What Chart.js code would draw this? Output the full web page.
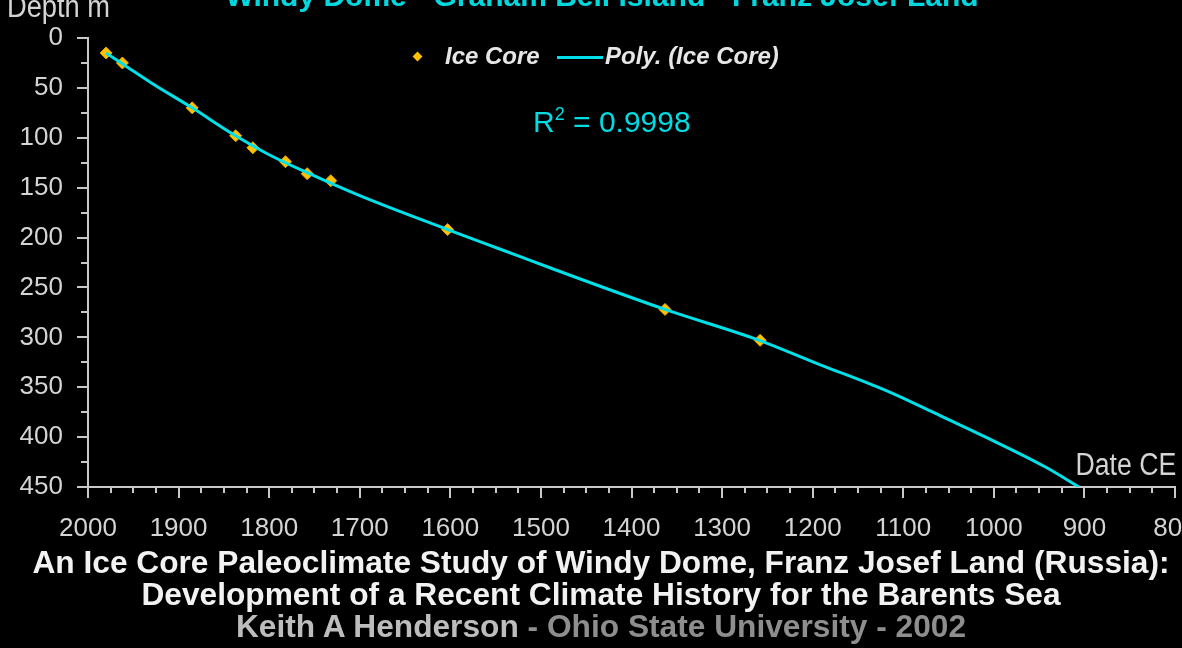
<!DOCTYPE html>
<html>
<head>
<meta charset="utf-8">
<script src="https://cdn.jsdelivr.net/npm/chart.js@4.4.1/dist/chart.umd.min.js"></script>
<style>
    html, body { margin: 0; padding: 0; background: #000; width: 1182px; height: 648px; overflow: hidden; }
    #wrap { position: absolute; left: 0; top: 0; width: 1240px; height: 648px; }
    .t { position: absolute; line-height: 1; white-space: nowrap; font-family: "Liberation Sans", Arial, sans-serif; }
    .axis { color: #d4d4d4; font-size: 31px; }
    .bold { font-weight: bold; }
</style>
</head>
<body>
<div id="wrap"><canvas id="iceChart" width="1240" height="648"></canvas></div>

<div class="t bold" style="left:0; width:1204px; text-align:center; top:-19px; font-size:30px; color:#00d8e0;">Windy Dome - Graham Bell Island - Franz Josef Land</div>
<div class="t axis" style="left:7px; top:-9px; transform:scaleX(0.88); transform-origin:left top;">Depth m</div>
<div class="t axis" style="right:6px; top:449px; transform:scaleX(0.86); transform-origin:right top;">Date CE</div>

<!-- Legende -->
<div style="position:absolute; left:414px; top:53px; width:7px; height:7px; background:#ffc000; transform:rotate(45deg);"></div>
<div class="t bold" style="left:445px; top:44px; font-size:24px; font-style:italic; color:#e6e6e6;">Ice Core</div>
<div style="position:absolute; left:557px; top:56px; width:46px; height:3px; background:#00e0e8;"></div>
<div class="t bold" style="left:605px; top:44px; font-size:24px; font-style:italic; color:#e6e6e6;">Poly. (Ice Core)</div>
<div class="t" style="left:533px; top:105px; font-size:30px; color:#00dce4;">R<sup style="font-size:18px; vertical-align:12px;">2</sup> = 0.9998</div>

<!-- Unterschrift -->
<div class="t bold" style="left:0; width:1202px; text-align:center; top:547px; font-size:31.7px; color:#f2f2f2;">An Ice Core Paleoclimate Study of Windy Dome, Franz Josef Land (Russia):</div>
<div class="t bold" style="left:0; width:1202px; text-align:center; top:579px; font-size:31.7px; color:#f2f2f2;">Development of a Recent Climate History for the Barents Sea</div>
<div class="t bold" style="left:0; width:1202px; text-align:center; top:611px; font-size:31.7px; color:#8e8e8e;"><span style="color:#bdbdbd;">Keith A Henderson</span> - Ohio State University - 2002</div>

<script>
// ---- Daten ----
const coreYears = [1980, 1962, 1885, 1837, 1818, 1782, 1758, 1732, 1603, 1363, 1258];
const coreDepths = [15, 25, 70, 98, 110, 124, 136, 143, 192, 272, 303];

const fitYears = [1980, 1960, 1930, 1885, 1837, 1800, 1758, 1700, 1603, 1544, 1485, 1363, 1259, 1193, 1120, 1065, 1009, 943, 906];
const fitDepths = [15, 27, 45, 70, 98, 117, 135, 158, 192, 212, 232, 272, 303, 327, 353, 376, 400, 430, 450];

const xMin = 800, xMax = 2000, xStep = 25, xLabelEvery = 100;
const yMin = 0, yMax = 450, yStep = 25, yLabelEvery = 50;

// ---- Ticks selbst zeichnen (lang/kurz) ----
const tickMarks = {
    id: 'tickMarks',
    afterDraw(chart) {
        const ctx = chart.ctx;
        const xs = chart.scales.x, ys = chart.scales.y;
        ctx.save();
        ctx.strokeStyle = '#c8c8c8';
        ctx.lineWidth = 2;
        ctx.beginPath();
        xs.ticks.forEach(t => {
            const px = Math.round(xs.getPixelForValue(t.value));
            const len = t.value % xLabelEvery === 0 ? 11 : 6;
            ctx.moveTo(px, xs.top);
            ctx.lineTo(px, xs.top + len);
        });
        ys.ticks.forEach(t => {
            const py = Math.round(ys.getPixelForValue(t.value));
            const len = t.value % yLabelEvery === 0 ? 11 : 7;
            ctx.moveTo(ys.right, py);
            ctx.lineTo(ys.right - len, py);
        });
        ctx.stroke();
        ctx.restore();
    }
};

const tickFont = { family: '"Liberation Sans", Arial, sans-serif', size: 26 };

const ctx = document.getElementById('iceChart').getContext('2d');
new Chart(ctx, {
    type: 'scatter',
    data: {
        datasets: [
            {
                label: 'Poly. (Ice Core)',
                data: fitYears.map((y, i) => ({ x: y, y: fitDepths[i] })),
                showLine: true,
                borderColor: '#00e0e8',
                borderWidth: 3,
                pointRadius: 0,
                cubicInterpolationMode: 'monotone',
                order: 0
            },
            {
                label: 'Ice Core',
                data: coreYears.map((y, i) => ({ x: y, y: coreDepths[i] })),
                pointStyle: 'rectRot',
                pointRadius: 6,
                backgroundColor: '#ffc000',
                borderColor: '#e8a800',
                borderWidth: 1,
                order: 1
            }
        ]
    },
    options: {
        responsive: false,
        animation: false,
        devicePixelRatio: 1,
        layout: { padding: { top: 38, right: 65, left: 0, bottom: 0 } },
        plugins: { legend: { display: false }, tooltip: { enabled: false } },
        scales: {
            x: {
                type: 'linear',
                reverse: true,
                min: xMin,
                max: xMax,
                afterFit: s => { s.height = 161; },
                border: { display: true, color: '#c8c8c8', width: 2 },
                grid: { drawOnChartArea: false, tickColor: 'rgba(0,0,0,0)', tickLength: 11 },
                ticks: {
                    stepSize: xStep,
                    autoSkip: false,
                    maxRotation: 0,
                    minRotation: 0,
                    padding: 15,
                    color: '#d4d4d4',
                    font: tickFont,
                    callback: v => v % xLabelEvery === 0 ? String(v) : ''
                }
            },
            y: {
                type: 'linear',
                reverse: true,
                min: yMin,
                max: yMax,
                afterFit: s => { s.width = 88; },
                border: { display: true, color: '#c8c8c8', width: 2 },
                grid: { drawOnChartArea: false, tickColor: 'rgba(0,0,0,0)', tickLength: 11 },
                ticks: {
                    stepSize: yStep,
                    autoSkip: false,
                    padding: 14,
                    color: '#d4d4d4',
                    font: tickFont,
                    callback: v => v % yLabelEvery === 0 ? String(v) : ''
                }
            }
        }
    },
    plugins: [tickMarks]
});
</script>
</body>
</html>
